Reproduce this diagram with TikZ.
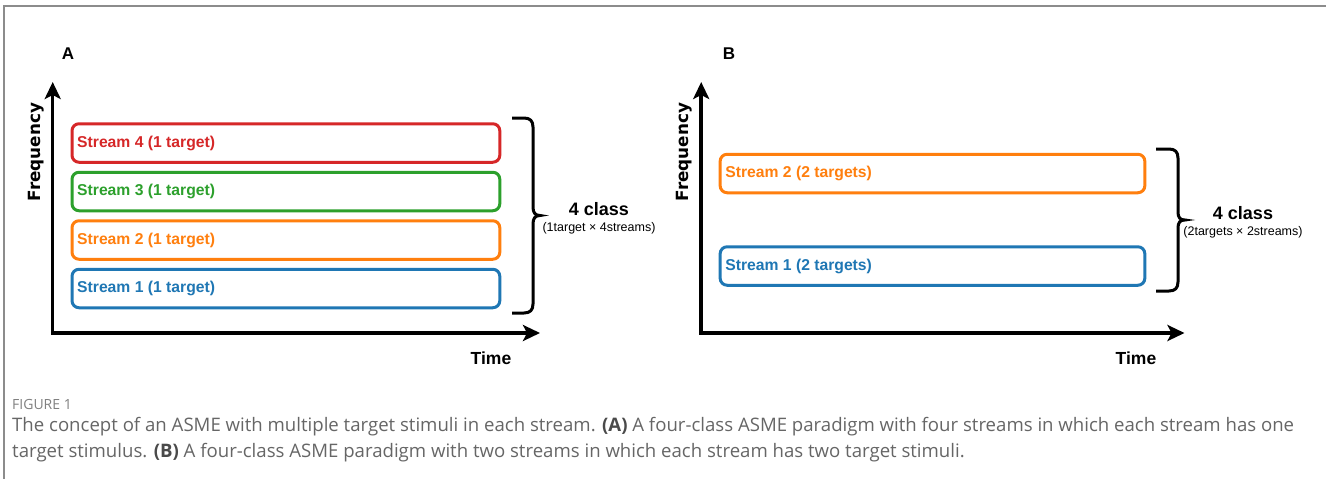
\documentclass[tikz,border=0pt]{standalone}
\usepackage{fontspec}
\setmainfont{Liberation Sans}
\newfontfamily\dejavu{DejaVu Sans}
\newfontfamily\capfont{Open Sans}
\usetikzlibrary{arrows.meta,calc}
\definecolor{sred}{HTML}{D62728}
\definecolor{sgreen}{HTML}{2CA02C}
\definecolor{sorange}{HTML}{FF7F0E}
\definecolor{sblue}{HTML}{1F77B4}
\definecolor{framegray}{HTML}{8C8C8C}
\definecolor{capgray}{HTML}{666666}
\definecolor{figgray}{HTML}{808080}
\definecolor{capbold}{HTML}{4A4A4A}
\tikzset{
  axisline/.style={line width=3.5pt, line join=miter, {Stealth[length=17pt,width=16pt,inset=4pt]}-{Stealth[length=17pt,width=16pt,inset=4pt]}},
  streambox/.style={draw=#1, line width=3pt, rounded corners=7pt, minimum width=427.8pt, minimum height=38.5pt, inner sep=0pt},
  streamtext/.style={text=#1, anchor=west, inner sep=0pt, font=\fontsize{15.7}{18}\selectfont\bfseries},
  bracepath/.style={line width=3pt, line cap=butt},
  panellabel/.style={font=\fontsize{17}{20}\selectfont\bfseries, inner sep=0pt},
  freqlabel/.style={font=\dejavu\fontsize{16.8}{20}\selectfont\bfseries, rotate=90, inner sep=0pt},
  timelabel/.style={font=\fontsize{17.5}{20}\selectfont\bfseries, inner sep=0pt},
  classlabel/.style={font=\fontsize{18}{20}\selectfont\bfseries, inner sep=0pt},
  classsub/.style={font=\fontsize{12.5}{14}\selectfont, inner sep=0pt},
  captext/.style={font=\capfont\fontsize{18.6}{25}\selectfont, text=capgray, anchor=base west, inner sep=0pt},
}
\newcommand{\capb}[1]{\textcolor{capbold}{\bfseries #1}}
\begin{document}
\begin{tikzpicture}[x=1pt,y=-1pt]
\useasboundingbox (0,0) rectangle (1326,479);
\fill[white] (0,0) rectangle (1326,479);
% frame
\draw[framegray, line width=2pt] (4,479) -- (4,6) -- (1326,6);

% ---------- Panel A ----------
\node[panellabel] (labA) at (68,54) {A};
\coordinate (oA) at (52.7,333);
\coordinate (yA) at (52.7,82);
\coordinate (xA) at (540,333);
\draw[axisline] (yA) -- (oA) -- (xA);
\node[freqlabel] (freqA) at (36,152) {Frequency};
\node[timelabel] (timeA) at (491,358) {Time};

\node[streambox=sred] (a4) at (285.9,143) {};
\node[streambox=sgreen] (a3) at (285.9,191.5) {};
\node[streambox=sorange] (a2) at (285.9,240) {};
\node[streambox=sblue] (a1) at (285.9,288.5) {};
\node[streamtext=sred] (ta4) at ($(a4.west)+(6.5,0)$) {Stream 4 (1 target)};
\node[streamtext=sgreen] (ta3) at ($(a3.west)+(6.5,0)$) {Stream 3 (1 target)};
\node[streamtext=sorange] (ta2) at ($(a2.west)+(6.5,0)$) {Stream 2 (1 target)};
\node[streamtext=sblue] (ta1) at ($(a1.west)+(6.5,0)$) {Stream 1 (1 target)};

\draw[bracepath] (512,118) -- (524,118) .. controls (530,118) and (533,121) .. (533,127)
  -- (533,207) .. controls (533,212.5) and (535,215.5) .. (540,215.5)
  .. controls (535,215.5) and (533,218.5) .. (533,224)
  -- (533,304) .. controls (533,310) and (530,313) .. (524,313) -- (512,313);
\node[classlabel] (clsA) at (599,209) {4 class};
\node[classsub] (subA) at (599,228) {(1target × 4streams)};

% ---------- Panel B ----------
\node[panellabel] (labB) at (729,54) {B};
\coordinate (oB) at (701.2,333);
\coordinate (yB) at (701.2,82);
\coordinate (xB) at (1184.5,333);
\draw[axisline] (yB) -- (oB) -- (xB);
\node[freqlabel] (freqB) at (684.5,152) {Frequency};
\node[timelabel] (timeB) at (1136,358) {Time};

\node[streambox=sorange, minimum width=424.7pt] (b2) at (932.5,173.5) {};
\node[streambox=sblue, minimum width=424.7pt] (b1) at (932.5,266) {};
\node[streamtext=sorange] (tb2) at ($(b2.west)+(6.5,0)$) {Stream 2 (2 targets)};
\node[streamtext=sblue] (tb1) at ($(b1.west)+(6.5,0)$) {Stream 1 (2 targets)};

\draw[bracepath] (1156,149) -- (1169,149) .. controls (1175,149) and (1178,152) .. (1178,158)
  -- (1178,212) .. controls (1178,217.5) and (1180,220) .. (1185,220)
  .. controls (1180,220) and (1178,222.5) .. (1178,228)
  -- (1178,282) .. controls (1178,288) and (1175,291) .. (1169,291) -- (1156,291);
\node[classlabel] (clsB) at (1243,213) {4 class};
\node[classsub] (subB) at (1243,232) {(2targets × 2streams)};

% ---------- Caption ----------
\node[captext, text=figgray, font=\capfont\fontsize{14}{16}\selectfont] (fig) at (12,409) {FIGURE 1};
\node[captext] (cap1) at (12,431) {The concept of an ASME with multiple target stimuli in each stream. \capb{(A)} A four-class ASME paradigm with four streams in which each stream has one};
\node[captext] (cap2) at (12,457) {target stimulus. \capb{(B)} A four-class ASME paradigm with two streams in which each stream has two target stimuli.};
\end{tikzpicture}
\end{document}
